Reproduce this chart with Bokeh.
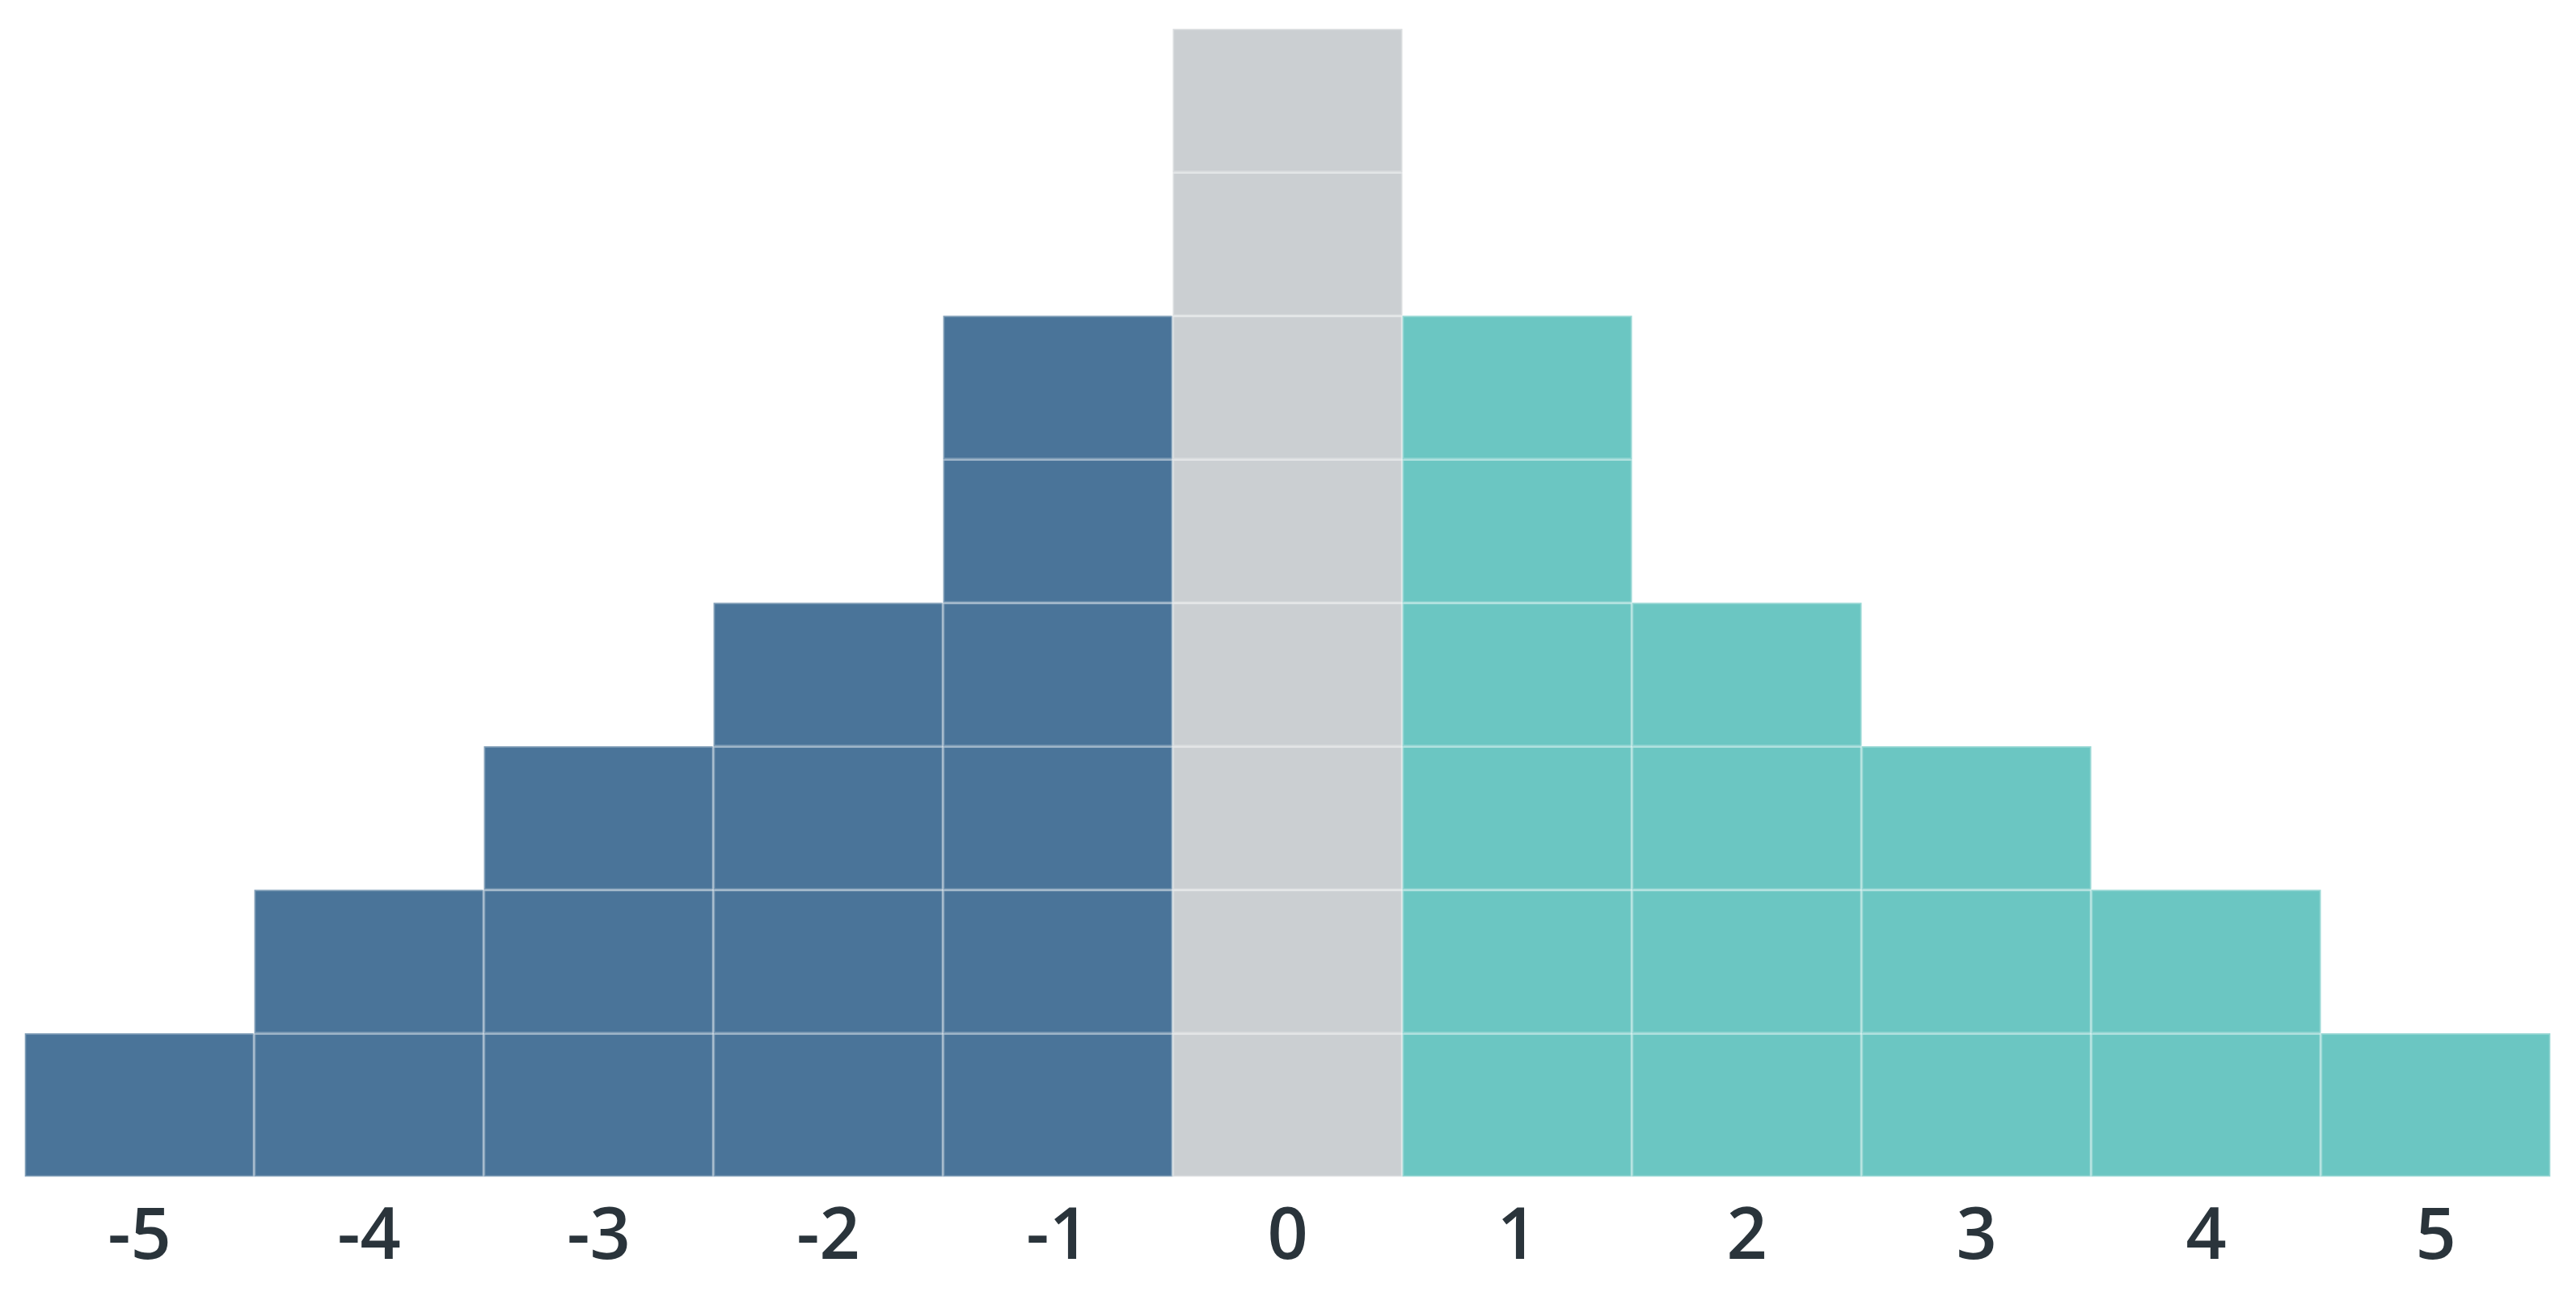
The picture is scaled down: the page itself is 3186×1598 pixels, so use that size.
from bokeh.plotting import figure
from bokeh.models import FixedTicker, Range1d, ColumnDataSource
from bokeh.embed import file_html
from bokeh.resources import INLINE

# Data
categories = [-5, -4, -3, -2, -1, 0, 1, 2, 3, 4, 5]
counts = [1, 2, 3, 4, 6, 8, 6, 4, 3, 2, 1]
tick_labels = ["-5", "-4", "-3", "-2", "-1", "0", "1", "2", "3", "4", "5"]

NEG = "#4A7499"
ZERO = "#CBCFD2"
POS = "#6BC6C2"

left, right, bottom, top, colors = [], [], [], [], []
for c, n in zip(categories, counts):
    col = NEG if c < 0 else (ZERO if c == 0 else POS)
    for k in range(n):
        left.append(c - 0.5)
        right.append(c + 0.5)
        bottom.append(k)
        top.append(k + 1)
        colors.append(col)

src = ColumnDataSource(dict(left=left, right=right, bottom=bottom, top=top, color=colors))

p = figure(width=3184, height=1590, output_backend="svg", toolbar_location=None,
           x_range=Range1d(-5.5, 5.5), y_range=Range1d(0, 8),
           min_border_left=30, min_border_right=30, min_border_top=35, min_border_bottom=135)
p.quad(left="left", right="right", bottom="bottom", top="top", source=src,
       fill_color="color", line_color="white", line_alpha=0.3, line_width=3.5)

p.outline_line_color = None
p.grid.visible = False
p.yaxis.visible = False
p.xaxis.ticker = FixedTicker(ticks=categories)
p.xaxis.major_label_overrides = {c: l for c, l in zip(categories, tick_labels)}
p.xaxis.axis_line_color = None
p.xaxis.major_tick_line_color = None
p.xaxis.minor_tick_line_color = None
p.xaxis.major_label_text_font = "Open Sans SemiBold"
p.xaxis.major_label_text_font_size = "88px"
p.xaxis.major_label_text_color = "#2A343B"
p.xaxis.major_label_standoff = 31

open("out.html", "w").write(file_html(p, INLINE))
